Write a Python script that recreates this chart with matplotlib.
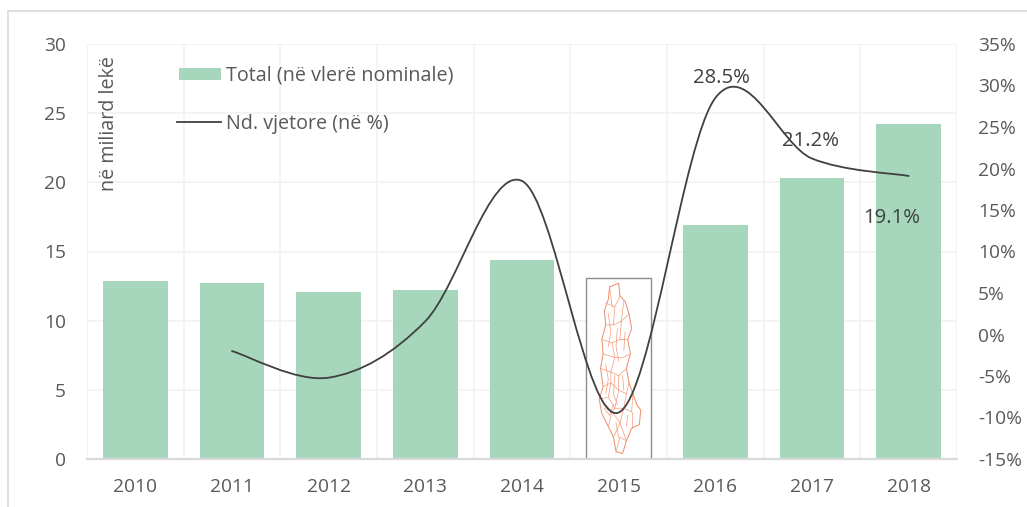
import numpy as np
import matplotlib
matplotlib.use("Agg")
import matplotlib.pyplot as plt
from matplotlib.path import Path
from matplotlib.patches import PathPatch, Rectangle

plt.rcParams['font.family'] = ['Open Sans', 'DejaVu Sans']

years = ['2010', '2011', '2012', '2013', '2014', '2015', '2016', '2017', '2018']
totals = [12.9, 12.7, 12.1, 12.2, 14.4, 13.1, 16.9, 20.3, 24.2]
growth_years = [1, 2, 3, 4, 5, 6, 7, 8]
growth = [-2.0, -5.2, 1.6, 18.5, -9.4, 28.5, 21.2, 19.1]
left_ticks = [0, 5, 10, 15, 20, 25, 30]
right_ticks = [-15, -10, -5, 0, 5, 10, 15, 20, 25, 30, 35]
value_labels = ['28.5%', '21.2%', '19.1%']

# decorative district-map thumbnail that covers the 2015 bar (unit square coordinates)
map_outline = [(.36, .95), (.50, .97), (.52, .90), (.60, .87), (.66, .80), (.70, .72), (.64, .66), (.68, .58),
               (.62, .50), (.66, .42), (.72, .36), (.78, .30), (.84, .27), (.82, .19), (.70, .17), (.62, .10),
               (.56, .03), (.46, .04), (.42, .12), (.34, .18), (.24, .25), (.20, .33), (.26, .40), (.22, .50),
               (.26, .58), (.24, .66), (.30, .74), (.28, .82), (.34, .88), (.36, .95)]
map_borders = [[(.30, .86), (.44, .84), (.52, .90)], [(.44, .84), (.42, .74), (.30, .74)],
               [(.42, .74), (.54, .76), (.66, .80)], [(.54, .76), (.52, .66), (.64, .66)],
               [(.24, .66), (.40, .64), (.52, .66)], [(.40, .64), (.44, .56), (.26, .58)],
               [(.44, .56), (.56, .56), (.68, .58)], [(.22, .50), (.38, .48), (.44, .56)],
               [(.38, .48), (.50, .46), (.62, .50)], [(.26, .40), (.38, .42), (.38, .48)],
               [(.38, .42), (.50, .38), (.50, .46)], [(.50, .38), (.62, .36), (.66, .42)],
               [(.20, .33), (.34, .34), (.38, .42)], [(.34, .34), (.44, .28), (.50, .38)],
               [(.44, .28), (.58, .28), (.62, .36)], [(.58, .28), (.70, .26), (.72, .36)],
               [(.34, .18), (.40, .26), (.44, .28)], [(.40, .26), (.52, .20), (.58, .28)],
               [(.52, .20), (.62, .10)], [(.52, .20), (.42, .12)], [(.70, .26), (.70, .17)],
               [(.30, .30), (.40, .26)], [(.36, .95), (.40, .84)], [(.58, .87), (.54, .76)],
               [(.46, .04), (.52, .12), (.62, .10)], [(.34, .80), (.38, .70), (.34, .62)],
               [(.48, .72), (.46, .62), (.50, .54)], [(.30, .52), (.34, .44), (.30, .36)],
               [(.44, .46), (.42, .36), (.48, .30)], [(.56, .46), (.58, .38)], [(.60, .70), (.58, .60)],
               [(.28, .28), (.36, .24), (.42, .30)], [(.46, .20), (.50, .12)], [(.64, .24), (.62, .18)]]

W, H = 1027, 507
fig = plt.figure(figsize=(W / 100, H / 100), dpi=100)
fig.patch.set_facecolor('white')
fig.add_artist(Rectangle((8 / W, -0.1), 1100 / W, 1.1 - 11 / H, transform=fig.transFigure,
                         fc='none', ec='#d9d9d9', lw=1.2))

ax = fig.add_axes([87 / W, 1 - 459 / H, 870 / W, 415 / H])
x = np.arange(len(years))
colors = ['#a6d6bc'] * len(years)
colors[5] = 'white'
bars = ax.bar(x, totals, width=0.67, color=colors, zorder=2)
ax.set_xlim(-0.5, 8.5)
ax.set_ylim(0, 30)
ax.set_xticks(x, years)
ax.set_yticks(left_ticks)
ax.set_axisbelow(True)
ax.grid(axis='y', color='#f2f2f2', lw=1.2)
for b in np.arange(-0.5, 9):
    ax.axvline(b, color='#f2f2f2', lw=1.2, zorder=0)
ax.tick_params(length=0, labelsize=13.8, labelcolor='#595959')
ax.tick_params(axis='x', pad=14)
ax.tick_params(axis='y', pad=15)
for name, sp in ax.spines.items():
    sp.set_visible(name == 'bottom')
ax.spines['bottom'].set_color('#d9d9d9')
ax.spines['bottom'].set_linewidth(1.6)
ax.spines['bottom'].set_zorder(5)
ax.text(-0.27, 19.4, 'në miliard lekë', rotation=90, ha='center', va='bottom', fontsize=14.2, color='#595959')

# map thumbnail
r = bars[5]
bx, bw, bh = r.get_x(), r.get_width(), r.get_height()
ax.add_patch(Rectangle((bx, 0), bw, bh, fc='white', ec='#8c8c8c', lw=1, zorder=3))
def to_data(p):
    return [(bx + u * bw, v * bh) for u, v in p]
ax.plot(*zip(*to_data(map_outline)), color='#f08a68', lw=0.7, zorder=3)
for seg in map_borders:
    ax.plot(*zip(*to_data(seg)), color='#f4a284', lw=0.55, zorder=3)

# secondary axis and smoothed line
ax2 = ax.twinx()
ax2.set_ylim(-15, 35)
ax2.set_yticks(right_ticks, [f'{t}%' for t in right_ticks])
ax2.tick_params(length=0, labelsize=13.8, labelcolor='#595959', pad=15)
for sp in ax2.spines.values():
    sp.set_visible(False)

px = np.array(growth_years, float)
py = np.array(growth, float)
verts = [(px[0], py[0])]
codes = [Path.MOVETO]
t = 1 / 3
n = len(px)
for i in range(n - 1):
    p0 = np.array((px[max(i - 1, 0)], py[max(i - 1, 0)]))
    p1 = np.array((px[i], py[i]))
    p2 = np.array((px[i + 1], py[i + 1]))
    p3 = np.array((px[min(i + 2, n - 1)], py[min(i + 2, n - 1)]))
    verts += [tuple(p1 + (p2 - p0) * t / 2), tuple(p2 - (p3 - p1) * t / 2), tuple(p2)]
    codes += [Path.CURVE4] * 3
ax2.add_patch(PathPatch(Path(verts, codes), fc='none', ec='#404040', lw=1.3, zorder=6, capstyle='round'))

ax2.text(6.06, 30.9, value_labels[0], ha='center', va='center', fontsize=14.6, color='#404040')
ax2.text(6.98, 23.3, value_labels[1], ha='center', va='center', fontsize=14.6, color='#404040')
ax2.text(7.82, 14.0, value_labels[2], ha='center', va='center', fontsize=14.6, color='#404040')

# legend drawn to match the free-placed original
tr = fig.transFigure
fig.add_artist(Rectangle((179 / W, 1 - 80 / H), 42 / W, 12 / H, transform=tr, fc='#a6d6bc', ec='none'))
fig.add_artist(plt.Line2D([177 / W, 221 / W], [1 - 122 / H] * 2, transform=tr, color='#404040', lw=1.3))
fig.text(226 / W, 1 - 76 / H, 'Total (në vlerë nominale)', va='center', fontsize=14.2, color='#595959')
fig.text(226 / W, 1 - 124 / H, 'Nd. vjetore (në %)', va='center', fontsize=14.2, color='#595959')

fig.savefig('out.png', dpi=100)
